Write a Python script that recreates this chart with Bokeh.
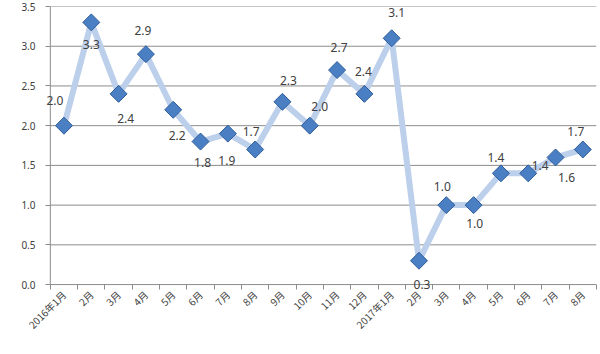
import math
from bokeh.plotting import figure
from bokeh.models import ColumnDataSource, FixedTicker, NumeralTickFormatter, Range1d, Label
from bokeh.embed import file_html
from bokeh.resources import INLINE

months = ["2016年1月", "2月", "3月", "4月", "5月", "6月", "7月", "8月", "9月", "10月",
          "11月", "12月", "2017年1月", "2月", "3月", "4月", "5月", "6月", "7月", "8月"]
values = [2.0, 3.3, 2.4, 2.9, 2.2, 1.8, 1.9, 1.7, 2.3, 2.0,
          2.7, 2.4, 3.1, 0.3, 1.0, 1.0, 1.4, 1.4, 1.6, 1.7]
y_ticks = [0.0, 0.5, 1.0, 1.5, 2.0, 2.5, 3.0, 3.5]

# label placement (screen pixels, positive dy = down)
label_dx = [-9, 0, 7, -3, 4, 2, -1, -4, 6, 10, 2, -1, 5, 3, -4, 1, -5, 12, 11, -7]
label_dy = [-25, 22, 25, -24, 26, 21, 27, -18, -21, -19, -23, -22, -26, 24, -19, 18, -16, -8, 20, -18]

n = len(months)
xs = [i + 0.5 for i in range(n)]
y_max = y_ticks[-1]
src = ColumnDataSource(dict(x=xs, y=values))

AX = "#8c8c8c"
# frame padded a little beyond the axes so edge data labels are not clipped
pad_x = 0.25
pad_y = 0.1
p = figure(width=600, height=354, output_backend="svg", toolbar_location=None,
           x_range=Range1d(-pad_x, n), y_range=Range1d(-pad_y, y_max))
p.min_border_left = 43
p.min_border_right = 4
p.min_border_top = 6
p.min_border_bottom = 62
p.outline_line_color = None
p.background_fill_color = "white"
p.border_fill_color = "white"

# horizontal gridlines limited to the plot area, plus the two axis lines
p.segment(x0=[0] * len(y_ticks), x1=[n] * len(y_ticks), y0=y_ticks, y1=y_ticks,
          line_color=AX, line_width=1)
p.segment(x0=[0], x1=[0], y0=[0], y1=[y_max], line_color=AX, line_width=1)

p.line("x", "y", source=src, line_color="#bccfeb", line_width=6)
p.scatter("x", "y", source=src, marker="square", angle=math.pi / 4, size=12,
          fill_color="#4a7fc4", line_color="#2e5c99", line_width=1)
for x, v, dx, dy in zip(xs, values, label_dx, label_dy):
    p.add_layout(Label(x=x, y=v, text=f"{v:.1f}", x_offset=dx, y_offset=-dy,
                       text_align="center", text_baseline="middle", text_font="Noto Sans",
                       text_font_size="12px", text_color="#404040"))

# x axis (sits on the padded frame edge; ticks reach up to the y=0 line)
p.xaxis.ticker = FixedTicker(ticks=xs, minor_ticks=list(range(n + 1)))
p.xaxis.major_label_overrides = {x: m for x, m in zip(xs, months)}
p.xaxis.major_label_orientation = math.pi / 4
p.xaxis.major_tick_line_color = None
p.xaxis.major_tick_out = 0
p.xaxis.major_tick_in = 0
p.xaxis.minor_tick_in = 8
p.xaxis.minor_tick_out = -3
p.xaxis.minor_tick_line_color = AX
p.xaxis.axis_line_color = None
p.xaxis.major_label_text_font = "Noto Sans CJK SC"
p.xaxis.major_label_text_font_size = "10px"
p.xaxis.major_label_text_color = "#404040"
p.xaxis.major_label_standoff = 0

# y axis
p.yaxis.ticker = FixedTicker(ticks=y_ticks)
p.yaxis.formatter = NumeralTickFormatter(format="0.0")
p.yaxis.major_tick_in = 7
p.yaxis.major_tick_out = -2
p.yaxis.minor_tick_line_color = None
p.yaxis.major_tick_line_color = AX
p.yaxis.axis_line_color = None
p.yaxis.major_label_text_font = "Noto Sans"
p.yaxis.major_label_text_font_size = "10px"
p.yaxis.major_label_text_color = "#404040"
p.yaxis.major_label_standoff = 8

p.xgrid.grid_line_color = None
p.ygrid.grid_line_color = None

open("out.html", "w").write(file_html(p, INLINE))
